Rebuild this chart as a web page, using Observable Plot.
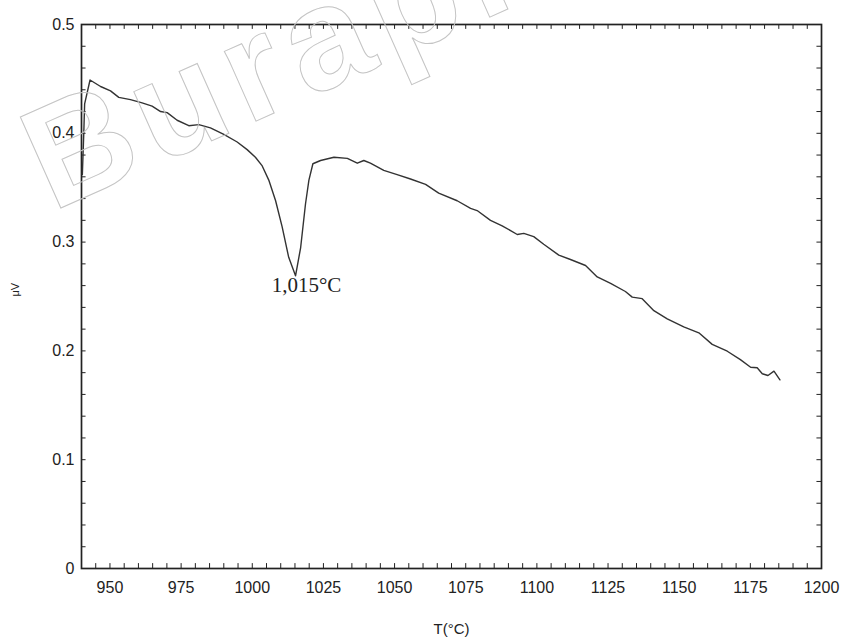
<!DOCTYPE html>
<html><head><meta charset="utf-8">
<script src="https://cdn.jsdelivr.net/npm/d3@7"></script>
<script src="https://cdn.jsdelivr.net/npm/@observablehq/plot@0.6"></script>
<style>
body{margin:0;background:#fff;}
#chart{position:relative;width:841px;height:642px;}
#wm{position:absolute;left:0;top:0;pointer-events:none;}
</style>
</head><body><div id="chart"></div>
<script>
const temperature = [940.3,940.8,941.1,943.0,946.7,950.2,953.1,957.2,961.3,964.8,967.8,970.1,973.6,977.7,981.2,985.3,990.0,994.7,998.2,1001.1,1003.5,1005.8,1008.2,1010.5,1012.8,1015.2,1017.0,1018.7,1019.9,1021.3,1024.0,1028.7,1033.4,1036.9,1039.2,1041.5,1046.2,1050.9,1055.6,1060.9,1065.5,1072.0,1076.7,1079.0,1083.7,1087.8,1093.1,1095.4,1098.9,1102.4,1107.7,1111.8,1117.1,1121.2,1125.9,1131.1,1133.5,1137.0,1141.1,1145.8,1151.6,1156.9,1161.6,1166.9,1171.5,1175.1,1177.4,1179.2,1181.2,1183.3,1185.4];
const signal = [0.362,0.400,0.427,0.449,0.443,0.439,0.433,0.431,0.428,0.425,0.420,0.419,0.412,0.407,0.408,0.405,0.399,0.392,0.385,0.378,0.370,0.357,0.338,0.314,0.286,0.269,0.295,0.335,0.357,0.372,0.375,0.378,0.377,0.3725,0.375,0.3725,0.366,0.362,0.358,0.353,0.345,0.338,0.331,0.329,0.320,0.315,0.307,0.308,0.305,0.298,0.288,0.284,0.2785,0.268,0.262,0.2546,0.2494,0.248,0.237,0.2295,0.222,0.2166,0.206,0.1997,0.192,0.185,0.1845,0.179,0.1774,0.1814,0.1734];
const xTicks = [950,975,1000,1025,1050,1075,1100,1125,1150,1175,1200];
const yTicks = [0,0.1,0.2,0.3,0.4,0.5];
const xMinor = d3.range(940, 1200.01, 5);
const yMinor = d3.range(0, 25.01, 1).map(i => i * 0.02);
const peakT = [1015.2];
const peakV = [0.269];
const peakLabel = ["1,015°C"];
const xTitle = "T(°C)";
const yTitle = "μV";
const watermark = "Burapha";

const data = temperature.map((t, i) => ({t, v: signal[i]}));
const peaks = peakT.map((t, i) => ({t, v: peakV[i], label: peakLabel[i]}));
const ink = "#222";

const chart = Plot.plot({
  width: 841, height: 642,
  marginLeft: 81, marginRight: 20, marginTop: 24, marginBottom: 74,
  style: {fontFamily: "'Liberation Sans', Arial, sans-serif", fontSize: "16px", color: ink, background: "#fff"},
  x: {domain: [940, 1200]},
  y: {domain: [0, 0.5]},
  marks: [
    Plot.ruleX(xMinor, {x: d => d, y1: 0, y2: 0.0045, stroke: ink}),
    Plot.ruleX(xMinor, {x: d => d, y1: 0.5, y2: 0.4955, stroke: ink}),
    Plot.ruleY(yMinor, {y: d => d, x1: 940, x2: 941.6, stroke: ink}),
    Plot.ruleY(yMinor, {y: d => d, x1: 1200, x2: 1198.4, stroke: ink}),
    Plot.frame({stroke: ink, strokeWidth: 1.7}),
    Plot.line(data, {x: "t", y: "v", stroke: "#333", strokeWidth: 1.4}),
    Plot.text(peaks, {x: "t", y: "v", text: "label", lineAnchor: "top", dx: 11, dy: 1, fontFamily: "'Liberation Serif', 'Times New Roman', serif", fontSize: 21, fill: "#222"}),
    Plot.axisX({ticks: xTicks, tickSize: 0, tickPadding: 13, tickFormat: d => String(d), label: null, fontSize: 16}),
    Plot.axisY({ticks: yTicks, tickSize: 0, tickPadding: 7, tickFormat: d => String(d), label: null, fontSize: 16}),
    Plot.text([xTitle], {text: d => d, frameAnchor: "bottom", dy: 65, fontSize: 15}),
    Plot.text([yTitle], {text: d => d, frameAnchor: "left", dx: -66, rotate: -90, fontSize: 11})
  ]
});
document.getElementById("chart").appendChild(chart);

const wm = d3.select("#chart").append("svg").attr("id", "wm").attr("width", 841).attr("height", 642);
wm.append("text")
  .attr("transform", "translate(52,212) rotate(-24)")
  .attr("font-family", "'Liberation Sans', Arial, sans-serif")
  .attr("font-weight", "bold")
  .attr("font-size", 145)
  .attr("letter-spacing", 10)
  .attr("fill", "none")
  .attr("stroke", "#c4c4c4")
  .attr("stroke-width", 1)
  .text(watermark);
</script>
</body></html>
